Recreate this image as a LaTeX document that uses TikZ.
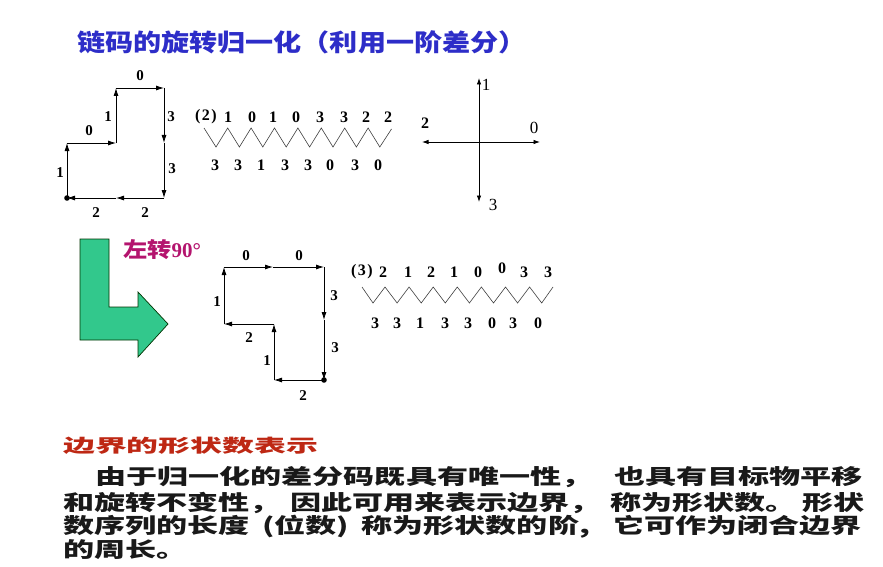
\documentclass[tikz,border=0pt]{standalone}
\usepackage{fontspec}
\setmainfont{Liberation Serif}
\newfontfamily\cjk{Noto Sans CJK SC}
\usetikzlibrary{arrows.meta}
\definecolor{titleblue}{RGB}{45,45,200}
\definecolor{rotred}{RGB}{180,20,110}
\definecolor{headred}{RGB}{190,40,20}
\definecolor{arrowgreen}{RGB}{50,200,140}
\definecolor{bodyblack}{RGB}{25,25,25}
\tikzset{
  seg/.style={line width=0.8pt, -{Latex[length=8pt,width=5pt]}},
  axis/.style={line width=0.8pt, {Latex[length=6.5pt,width=4.5pt]}-{Latex[length=6.5pt,width=4.5pt]}},
  lbl/.style={inner sep=0, font=\fontsize{15}{15}\selectfont\bfseries},
  zz/.style={line width=0.6pt, draw=black!75},
  zn/.style={inner sep=0, font=\fontsize{16}{16}\selectfont\bfseries},
  axl/.style={inner sep=0, font=\fontsize{17}{17}\selectfont},
  body/.style={anchor=west, inner sep=0, text=bodyblack, font=\cjk\bfseries\fontsize{21}{21}\selectfont},
}
\begin{document}
\begin{tikzpicture}[x=1pt,y=-1pt]
\useasboundingbox[fill=white] (0,0) rectangle (883,567);

% title
\node[anchor=west, inner sep=0, text=titleblue, font=\cjk\bfseries\fontsize{24}{24}\selectfont] (title) at (77,42)
  {\scalebox{1.17}[1]{链码的旋转归一化（利用一阶差分）}};

% chain 1
\coordinate (a0) at (67,198);
\coordinate (a1) at (67,143);
\coordinate (a2) at (116,143);
\coordinate (a3) at (116,88);
\coordinate (a4) at (164,88);
\coordinate (a5) at (164,143);
\coordinate (a6) at (164,198);
\coordinate (a7) at (116,198);
\draw[seg] (a0) -- (a1);
\draw[seg] (a1) -- (a2);
\draw[seg] (a2) -- (a3);
\draw[seg] (a3) -- (a4);
\draw[seg] (a4) -- (a5);
\draw[seg] (a5) -- (a6);
\draw[seg] (a6) -- (a7);
\draw[seg] (a7) -- (a0);
\fill (a0) circle[radius=2.8];
\node[lbl] (l1) at (60,173) {1};
\node[lbl] (l2) at (89,131) {0};
\node[lbl] (l3) at (108,117) {1};
\node[lbl] (l4) at (140,76) {0};
\node[lbl] (l5) at (171,117) {3};
\node[lbl] (l6) at (172,169) {3};
\node[lbl] (l7) at (145,213) {2};
\node[lbl] (l8) at (96,213) {2};

% zigzag 1
\node[zn] (p2) at (206,117) {(\kern1.5pt 2\kern1.5pt)};
\foreach \x/\t [count=\i] in {228/1,252/0,273/1,296/0,320/3,344/3,366/2,388/2}
  \node[zn] (u\i) at (\x,117) {\t};
\draw[zz] (204,128) \foreach \k in {0,...,6}{ -- ({216+23.4*\k},147) -- ({227.7+23.4*\k},128)} -- (379.8,147) -- (391.5,129);
\foreach \x/\t [count=\i] in {215/3,238/3,261/1,285/3,308/3,330/0,355/3,378/0}
  \node[zn] (d\i) at (\x,165) {\t};

% axes
\coordinate (ax0) at (479,142);
\coordinate (axT) at (479,78);
\coordinate (axB) at (479,202);
\coordinate (axL) at (422,142);
\coordinate (axR) at (540,142);
\draw[axis] (axL) -- (axR);
\draw[axis] (axT) -- (axB);
\node[axl] (x1) at (486,85) {1};
\node[axl] (x0) at (534,128) {0};
\node[axl, font=\fontsize{16}{16}\selectfont\bfseries] (x2) at (425,123) {2};
\node[axl] (x3) at (493,205) {3};

% green turning arrow
\draw[fill=arrowgreen, draw=black!80!green, line width=0.7pt]
  (80,239) -- (109,239) -- (109,307) -- (138,307) -- (138,292) -- (168,324)
  -- (138,357) -- (138,340) -- (80,340) -- cycle;
\node[anchor=west, inner sep=0, text=rotred] (rot) at (123,250)
  {\scalebox{1.15}[1]{\cjk\bfseries\fontsize{21}{21}\selectfont 左转}\fontsize{21}{21}\selectfont\bfseries 90°};

% chain 2
\coordinate (b0) at (324,380);
\coordinate (b1) at (274,380);
\coordinate (b2) at (274,324);
\coordinate (b3) at (224,324);
\coordinate (b4) at (224,267);
\coordinate (b5) at (273,267);
\coordinate (b6) at (324,267);
\coordinate (b7) at (324,320);
\draw[seg] (b0) -- (b1);
\draw[seg] (b1) -- (b2);
\draw[seg] (b2) -- (b3);
\draw[seg] (b3) -- (b4);
\draw[seg] (b4) -- (b5);
\draw[seg] (b5) -- (b6);
\draw[seg] (b6) -- (b7);
\draw[seg] (b7) -- (b0);
\fill (b0) circle[radius=2.8];
\node[lbl] (m1) at (303,396) {2};
\node[lbl] (m2) at (267,361) {1};
\node[lbl] (m3) at (249,338) {2};
\node[lbl] (m4) at (217,302) {1};
\node[lbl] (m5) at (246,256) {0};
\node[lbl] (m6) at (299,256) {0};
\node[lbl] (m7) at (334,296) {3};
\node[lbl] (m8) at (335,348) {3};

% zigzag 2
\node[zn] (p3) at (362,272) {(\kern1.5pt 3\kern1.5pt)};
\foreach \x/\y/\t [count=\i] in {383/272/2,408/272/1,431/272/2,454/272/1,478/272/0,502/268/0,524/272/3,548/272/3}
  \node[zn] (v\i) at (\x,\y) {\t};
\draw[zz] (362,287) \foreach \k in {0,...,6}{ -- ({373+24.1*\k},303) -- ({385+24.1*\k},287)} -- (541.7,303) -- (553,287);
\foreach \x/\t [count=\i] in {375/3,397/3,420/1,445/3,468/3,492/0,513/3,538/0}
  \node[zn] (w\i) at (\x,323) {\t};

% bottom text
\node[anchor=west, inner sep=0, text=headred, font=\cjk\bfseries\fontsize{18}{18}\selectfont] (head) at (63,446)
  {\scalebox{1.77}[1]{边界的形状数表示}};
\node[body] (t1) at (95,477) {\scalebox{1.48}[1]{由于归一化的差分码既具有唯一性，\hspace{0.7em}也具有目标物平移}};
\node[body] (t2) at (63,503) {\scalebox{1.48}[1]{和旋转不变性，\hspace{0.3em}因此可用来表示边界，\hspace{0.3em}称为形状数。\hspace{0.2em}形状}};
\node[body] (t3) at (63,527) {\scalebox{1.48}[1]{数序列的长度\hspace{0.4em}(位数)\hspace{0.4em}称为形状数的阶,\hspace{0.75em}它可作为闭合边界}};
\node[body] (t4) at (63,550) {\scalebox{1.48}[1]{的周长。}};
\end{tikzpicture}
\end{document}
